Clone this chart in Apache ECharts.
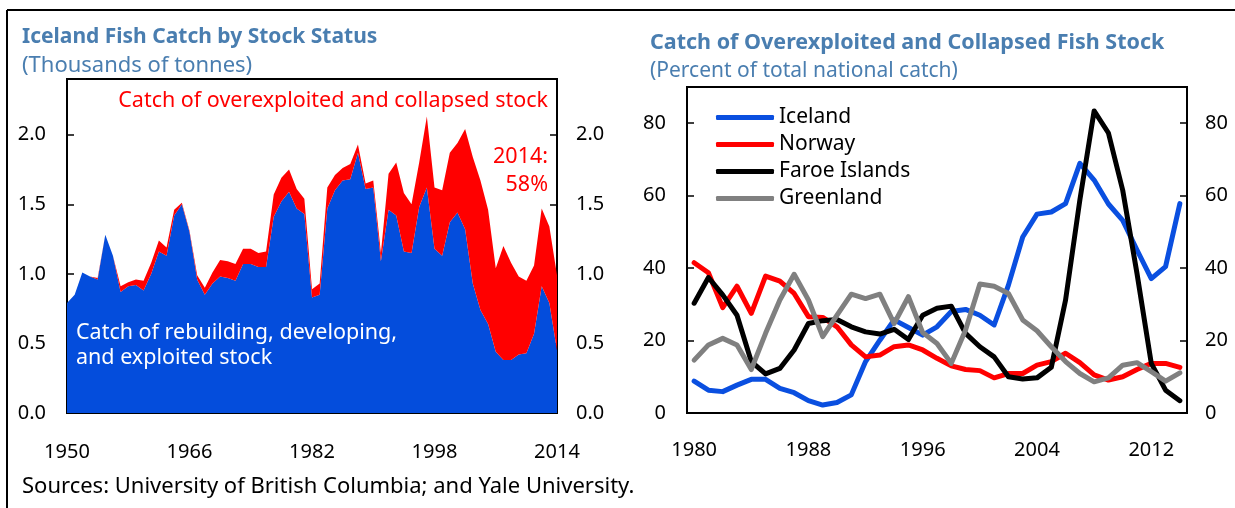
<!DOCTYPE html>
<html>
<head>
<meta charset="utf-8">
<script src="https://cdn.jsdelivr.net/npm/echarts@6/dist/echarts.min.js"></script>
<style>
  html, body { margin: 0; padding: 0; background: #fff; }
  #main { width: 1235px; height: 508px; }
</style>
</head>
<body>
<div id="main"></div>
<script>
// left panel: Iceland catch, thousands of tonnes
var catchYears = [];
for (var y = 1950; y <= 2014; y++) catchYears.push(String(y));

var healthyCatch = [
  0.79, 0.85, 1.01, 0.98, 0.96, 1.28, 1.13, 0.87, 0.91, 0.92,
  0.88, 1.00, 1.16, 1.13, 1.42, 1.50, 1.30, 0.96, 0.85, 0.93,
  0.98, 0.97, 0.95, 1.07, 1.07, 1.05, 1.05, 1.41, 1.52, 1.59,
  1.47, 1.43, 0.83, 0.85, 1.47, 1.60, 1.67, 1.68, 1.87, 1.61,
  1.62, 1.09, 1.46, 1.42, 1.16, 1.15, 1.48, 1.62, 1.18, 1.13,
  1.37, 1.44, 1.32, 0.93, 0.74, 0.64, 0.44, 0.38, 0.38, 0.42,
  0.43, 0.57, 0.91, 0.79, 0.45
];
var overCatch = [
  0.00, 0.00, 0.00, 0.00, 0.01, 0.00, 0.00, 0.04, 0.03, 0.04,
  0.07, 0.08, 0.08, 0.06, 0.04, 0.01, 0.01, 0.03, 0.05, 0.08,
  0.12, 0.12, 0.12, 0.11, 0.11, 0.10, 0.11, 0.16, 0.17, 0.16,
  0.14, 0.11, 0.06, 0.08, 0.15, 0.11, 0.09, 0.11, 0.06, 0.04,
  0.05, 0.06, 0.26, 0.38, 0.42, 0.35, 0.32, 0.51, 0.44, 0.47,
  0.50, 0.50, 0.72, 0.91, 0.93, 0.82, 0.60, 0.82, 0.70, 0.56,
  0.52, 0.49, 0.56, 0.55, 0.54
];

// right panel: share of overexploited/collapsed catch, percent
var shareYears = [];
for (var y2 = 1980; y2 <= 2014; y2++) shareYears.push(String(y2));

var iceland = [
  8.8, 6.3, 5.9, 7.7, 9.3, 9.3, 6.8, 5.6, 3.4, 2.2,
  2.9, 5.0, 14.2, 20.1, 25.7, 23.6, 21.5, 23.8, 28.0, 28.6,
  27.0, 24.3, 35.3, 48.6, 54.9, 55.5, 57.8, 68.9, 64.3, 57.7,
  53.2, 45.0, 37.1, 40.4, 57.8
];
var norway = [
  41.5, 38.7, 29.1, 35.0, 27.5, 37.8, 36.4, 33.0, 26.6, 26.4,
  23.8, 18.8, 15.5, 16.0, 18.3, 18.8, 17.4, 15.1, 13.0, 12.0,
  11.7, 9.7, 10.9, 10.9, 13.2, 14.2, 16.5, 13.9, 10.5, 9.1,
  10.0, 12.0, 13.7, 13.7, 12.6
];
var faroe = [
  30.3, 37.4, 32.6, 27.0, 14.2, 10.8, 12.3, 17.4, 24.7, 25.5,
  25.8, 23.8, 22.4, 21.8, 23.1, 20.3, 27.0, 28.9, 29.5, 22.0,
  18.3, 15.5, 10.0, 9.4, 9.7, 12.6, 31.2, 58.8, 83.4, 77.3,
  61.5, 38.5, 13.7, 6.3, 3.4
];
var greenland = [
  14.6, 18.8, 20.6, 18.8, 12.0, 22.0, 31.2, 38.3, 31.2, 21.1,
  27.0, 32.8, 31.6, 32.8, 24.7, 32.1, 22.2, 19.2, 13.7, 22.9,
  35.6, 35.0, 33.0, 25.7, 22.7, 18.3, 14.2, 10.9, 8.6, 9.7,
  13.2, 13.9, 11.4, 8.8, 11.1
];

var FONT = 'Noto Sans';
var TITLE_BLUE = '#4a7eb0';

var chart = echarts.init(document.getElementById('main'), null, { renderer: 'canvas' });

function valueAxis(grid, pos, max, interval, fmt, margin) {
  return {
    type: 'value', gridIndex: grid, position: pos,
    min: 0, max: max, interval: interval,
    axisLine: { show: true, lineStyle: { color: '#000', width: 2 } },
    axisTick: { show: true, inside: true, length: 7, lineStyle: { color: '#000', width: 1.5 } },
    splitLine: { show: false },
    axisLabel: { color: '#000', fontSize: 20, fontFamily: FONT, margin: margin, showMaxLabel: false, formatter: fmt }
  };
}

// texts sit above the areas
function label(x, y, text, size, color, extra) {
  var style = { text: text, x: x, y: y, fontSize: size, fill: color, fontFamily: FONT, verticalAlign: 'middle', align: 'left' };
  for (var k in extra) style[k] = extra[k];
  return { type: 'text', z: 100, style: style };
}

var option = {
  animation: false,
  textStyle: { fontFamily: FONT },
  grid: [
    { left: 67, top: 79, width: 490, height: 334, show: true, borderColor: '#000', borderWidth: 2, containLabel: false, outerBoundsMode: 'none' },
    { left: 687, top: 87, width: 500, height: 326, show: true, borderColor: '#000', borderWidth: 2, containLabel: false, outerBoundsMode: 'none' }
  ],
  xAxis: [
    {
      type: 'category', gridIndex: 0, data: catchYears, boundaryGap: false,
      axisLine: { lineStyle: { color: '#000', width: 2 } },
      axisTick: { inside: true, length: 6, interval: 15, lineStyle: { color: '#000', width: 1.5 } },
      axisLabel: { interval: 15, color: '#000', fontSize: 20, margin: 29 }
    },
    {
      type: 'category', gridIndex: 1, data: shareYears, boundaryGap: true,
      axisLine: { lineStyle: { color: '#000', width: 2 } },
      axisTick: { inside: true, length: 6, interval: 7, lineStyle: { color: '#000', width: 1.5 } },
      axisLabel: { interval: 7, color: '#000', fontSize: 20, margin: 27 }
    }
  ],
  yAxis: [
    valueAxis(0, 'left', 2.4, 0.5, function (v) { return v.toFixed(1); }, 21),
    valueAxis(0, 'right', 2.4, 0.5, function (v) { return v.toFixed(1); }, 19),
    valueAxis(1, 'left', 90, 20, null, 21),
    valueAxis(1, 'right', 90, 20, null, 18)
  ],
  legend: {
    data: ['Iceland', 'Norway', 'Faroe Islands', 'Greenland'],
    orient: 'vertical', left: 711, top: 99,
    itemWidth: 58, itemHeight: 5, itemGap: 0,
    icon: 'roundRect',
    textStyle: { fontSize: 21, lineHeight: 27, color: '#000', fontFamily: FONT }
  },
  series: [
    {
      name: 'Rebuilding', type: 'line', xAxisIndex: 0, yAxisIndex: 0, stack: 'catch',
      data: healthyCatch, showSymbol: false, lineStyle: { width: 0 },
      areaStyle: { color: '#044ddc', opacity: 1 }
    },
    {
      name: 'Overexploited', type: 'line', xAxisIndex: 0, yAxisIndex: 0, stack: 'catch',
      data: overCatch, showSymbol: false, lineStyle: { width: 0 },
      areaStyle: { color: '#ff0000', opacity: 1 }
    },
    {
      name: 'Iceland', type: 'line', xAxisIndex: 1, yAxisIndex: 2, data: iceland,
      showSymbol: false, color: '#0a4fe0',
      lineStyle: { width: 5, cap: 'round', join: 'round' }
    },
    {
      name: 'Norway', type: 'line', xAxisIndex: 1, yAxisIndex: 2, data: norway,
      showSymbol: false, color: '#ff0000',
      lineStyle: { width: 5, cap: 'round', join: 'round' }
    },
    {
      name: 'Faroe Islands', type: 'line', xAxisIndex: 1, yAxisIndex: 2, data: faroe,
      showSymbol: false, color: '#000000',
      lineStyle: { width: 5, cap: 'round', join: 'round' }
    },
    {
      name: 'Greenland', type: 'line', xAxisIndex: 1, yAxisIndex: 2, data: greenland,
      showSymbol: false, color: '#808080',
      lineStyle: { width: 5, cap: 'round', join: 'round' }
    }
  ],
  graphic: [
    { type: 'line', z: 100, shape: { x1: 7, y1: 10, x2: 1235, y2: 10 }, style: { stroke: '#000', lineWidth: 2 } },
    { type: 'line', z: 100, shape: { x1: 7, y1: 10, x2: 7, y2: 508 }, style: { stroke: '#000', lineWidth: 2 } },
    label(22, 37, 'Iceland Fish Catch by Stock Status', 21, TITLE_BLUE, { fontWeight: 'bold' }),
    label(22, 66, '(Thousands of tonnes)', 22, TITLE_BLUE),
    label(650, 43, 'Catch of Overexploited and Collapsed Fish Stock', 21.5, TITLE_BLUE, { fontWeight: 'bold' }),
    label(650, 71, '(Percent of total national catch)', 21, TITLE_BLUE),
    label(548, 101, 'Catch of overexploited and collapsed stock', 21.5, '#ff0000', { align: 'right' }),
    label(548, 157, '2014:', 21.5, '#ff0000', { align: 'right' }),
    label(548, 185, '58%', 21.5, '#ff0000', { align: 'right' }),
    label(76, 333, 'Catch of rebuilding, developing,', 21.5, '#ffffff'),
    label(76, 358, 'and exploited stock', 21.5, '#ffffff'),
    label(22, 487, 'Sources: University of British Columbia; and Yale University.', 22, '#000')
  ]
};

chart.setOption(option);
</script>
</body>
</html>
